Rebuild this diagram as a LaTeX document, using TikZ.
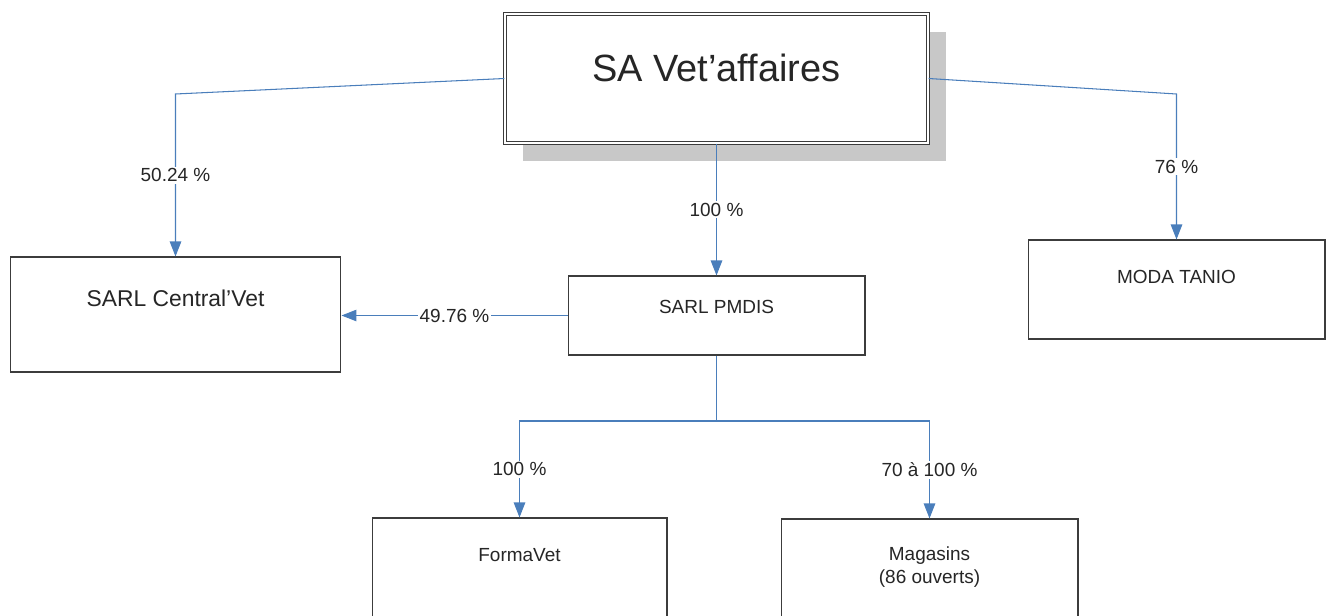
\documentclass[tikz,border=0pt]{standalone}
\usepackage{fontspec}
\setmainfont{Liberation Sans}
\usepackage{tikz}
\usetikzlibrary{arrows.meta,shadows}

\definecolor{linkblue}{HTML}{4A7EBB}
\definecolor{boxgray}{HTML}{3C3C3C}
\definecolor{shadowgray}{HTML}{C8C8C8}

\tikzset{
  box/.style={draw=boxgray, line width=0.6pt, rectangle, inner sep=0pt, fill=white},
  topbox/.style={box, line width=0.7pt, double=white, double distance=1.2pt, minimum width=8.46cm, minimum height=2.58cm,
    drop shadow={shadow xshift=0.36cm, shadow yshift=-0.36cm, fill=shadowgray, opacity=1}},
  boxtext/.style={anchor=center, align=center, text=black!85, font=\fontsize{10.8}{13}\selectfont},
  line/.style={draw=linkblue, line width=0.6pt},
  link/.style={line, -{Triangle[length=0.3cm,width=0.23cm]}},
  pct/.style={fill=white, inner sep=1pt, text=black!85, font=\fontsize{10.8}{13}\selectfont}
}

\begin{document}
\begin{tikzpicture}[x=0.02cm, y=-0.02cm]
   \useasboundingbox (0,0) rectangle (1331,615);

   \draw (716.5,78.5) node[topbox, label={[boxtext, yshift=-1.09cm, font=\fontsize{21.6}{26}\selectfont]north:SA Vet’affaires}] (sa) {};
   \draw (175.5,314.5) node[box, minimum width=6.62cm, minimum height=2.3cm, label={[boxtext, yshift=-0.84cm, font=\fontsize{13}{16}\selectfont]north:SARL Central’Vet}] (centralvet) {};
   \draw (716.5,315.5) node[box, minimum width=5.94cm, minimum height=1.58cm, label={[boxtext, yshift=-0.62cm]north:SARL PMDIS}] (pmdis) {};
   \draw (1176.5,289.5) node[box, minimum width=5.94cm, minimum height=1.98cm, label={[boxtext, yshift=-0.74cm]north:MODA TANIO}] (moda) {};
   \draw (519.5,568) node[box, minimum width=5.9cm, minimum height=2cm, label={[boxtext, yshift=-0.76cm]north:FormaVet}] (formavet) {};
   \draw (929.5,569) node[box, minimum width=5.94cm, minimum height=2cm, label={[boxtext, yshift=-0.98cm]north:{Magasins\\(86 ouverts)}}] (magasins) {};

   \coordinate (bendL) at (175.5,94);
   \coordinate (bendR) at (1176.5,94);
   \coordinate (split) at (716.5,421);

   \draw[link] (sa.west) -- (bendL) -- node[pct] {50.24 \%} (centralvet.north);
   \draw[link] (sa.east) -- (bendR) -- node[pct] {76 \%} (moda.north);
   \draw[link] (sa.south) -- node[pct] {100 \%} (pmdis.north);
   \draw[link] (pmdis.west) -- node[pct] {49.76 \%} (pmdis.west -| centralvet.east);

   \draw[line] (pmdis.south) -- (split);
   \draw[link] (split) -| node[pct, pos=0.75] {100 \%} (formavet.north);
   \draw[link] (split) -| node[pct, pos=0.75] {70 à 100 \%} (magasins.north);

\end{tikzpicture}
\end{document}
